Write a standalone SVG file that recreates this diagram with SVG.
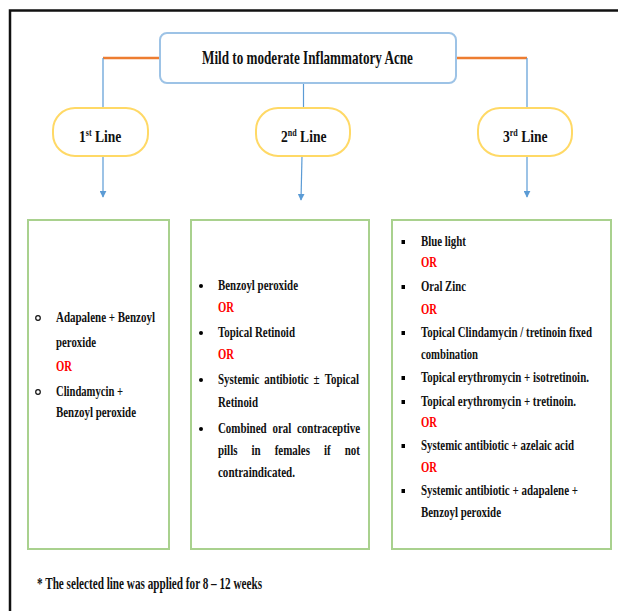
<svg xmlns="http://www.w3.org/2000/svg" width="618" height="611" viewBox="0 0 618 611">
<defs>
<style>
text{font-family:"Liberation Serif","Times New Roman",serif;font-weight:bold;fill:#111;}
.t{font-size:15px;}
.or{font-size:15px;fill:#ff0000;}
.ttl{font-size:18px;}
.lab{font-size:17px;}
.ft{font-size:17px;}
.green{fill:#fff;stroke:#a9d18e;stroke-width:2;}
.oval{fill:#fff;stroke:#ffd966;stroke-width:2;}
.conn{fill:none;stroke:#5b9bd5;stroke-width:1.2;}
.orange{fill:none;stroke:#ed7d31;stroke-width:2.5;}
</style>
<marker id="arr" viewBox="0 0 10 10" refX="9" refY="5" markerWidth="7" markerHeight="7" markerUnits="userSpaceOnUse" orient="auto">
<path d="M0,0 L10,5 L0,10 z" fill="#5b9bd5"/>
</marker>
</defs>
<rect width="618" height="611" fill="#fff"/>
<path d="M10,611 V10.5 H618" fill="none" stroke="#111" stroke-width="2.5"/>

<g id="connectors">
<path class="orange" d="M103,58 H160"/>
<path class="orange" d="M456,58 H527"/>
<path class="conn" d="M103,58 V108"/>
<path class="conn" d="M527,58 V108"/>
<path class="conn" d="M303.5,83 V108"/>
<path class="conn" d="M103,156 V197" marker-end="url(#arr)"/>
<path class="conn" d="M302,156 L301,200" marker-end="url(#arr)"/>
<path class="conn" d="M527,156 V197" marker-end="url(#arr)"/>
</g>

<g id="root">
<rect x="160" y="33" width="296" height="50" rx="7" fill="#fff" stroke="#9dc3e6" stroke-width="2"/>
<text class="ttl" transform="translate(202,64) scale(0.72,1)" textLength="293" lengthAdjust="spacingAndGlyphs">Mild to moderate Inflammatory Acne</text>
</g>

<g id="line1">
<rect class="oval" x="53" y="108" width="95" height="48" rx="22"/>
<text class="lab" transform="translate(79,142) scale(0.8,1)">1<tspan font-size="10" dy="-6">st</tspan><tspan dy="6"> Line</tspan></text>
</g>
<g id="line2">
<rect class="oval" x="256" y="108" width="94" height="48" rx="22"/>
<text class="lab" transform="translate(281,142) scale(0.8,1)">2<tspan font-size="10" dy="-6">nd</tspan><tspan dy="6"> Line</tspan></text>
</g>
<g id="line3">
<rect class="oval" x="478" y="108" width="94" height="48" rx="22"/>
<text class="lab" transform="translate(503,142) scale(0.8,1)">3<tspan font-size="10" dy="-6">rd</tspan><tspan dy="6"> Line</tspan></text>
</g>

<g id="box1">
<rect class="green" x="28" y="220" width="141" height="329"/>
<circle cx="38" cy="318" r="2.3" fill="none" stroke="#111" stroke-width="1.2"/>
<circle cx="38" cy="392" r="2.3" fill="none" stroke="#111" stroke-width="1.2"/>
<g transform="scale(0.73,1)">
<text class="t" x="76.7" y="322" textLength="135.6" lengthAdjust="spacingAndGlyphs">Adapalene + Benzoyl</text>
<text class="t" x="76.7" y="347" textLength="54.8" lengthAdjust="spacingAndGlyphs">peroxide</text>
<text class="or" x="76.7" y="371" textLength="21.9" lengthAdjust="spacingAndGlyphs">OR</text>
<text class="t" x="76.7" y="396" textLength="91.8" lengthAdjust="spacingAndGlyphs">Clindamycin +</text>
<text class="t" x="76.7" y="417" textLength="109.6" lengthAdjust="spacingAndGlyphs">Benzoyl peroxide</text>
</g>
</g>

<g id="box2">
<rect class="green" x="191" y="220" width="178" height="329"/>
<circle cx="201" cy="286" r="2"/>
<circle cx="201" cy="333" r="2"/>
<circle cx="201" cy="380" r="2"/>
<circle cx="201" cy="429" r="2"/>
<g transform="scale(0.73,1)">
<text class="t" x="298.6" y="290" textLength="109.6" lengthAdjust="spacingAndGlyphs">Benzoyl peroxide</text>
<text class="or" x="298.6" y="312" textLength="21.9" lengthAdjust="spacingAndGlyphs">OR</text>
<text class="t" x="298.6" y="337" textLength="105.5" lengthAdjust="spacingAndGlyphs">Topical Retinoid</text>
<text class="or" x="298.6" y="359" textLength="21.9" lengthAdjust="spacingAndGlyphs">OR</text>
<text class="t" x="298.6" y="384">Systemic</text>
<text class="t" x="362.1" y="384">antibiotic</text>
<text class="t" x="429.6" y="384">±</text>
<text class="t" x="444.8" y="384">Topical</text>
<text class="t" x="298.6" y="407" textLength="54.8" lengthAdjust="spacingAndGlyphs">Retinoid</text>
<text class="t" x="298.6" y="433">Combined</text>
<text class="t" x="373.2" y="433">oral</text>
<text class="t" x="406.8" y="433">contraceptive</text>
<text class="t" x="298.6" y="455">pills</text>
<text class="t" x="344.6" y="455">in</text>
<text class="t" x="376.3" y="455">females</text>
<text class="t" x="443.9" y="455">if</text>
<text class="t" x="472.3" y="455">not</text>
<text class="t" x="298.6" y="477" textLength="105.5" lengthAdjust="spacingAndGlyphs">contraindicated.</text>
</g>
</g>

<g id="box3">
<rect class="green" x="392" y="220" width="219" height="329"/>
<rect x="401.5" y="240" width="3.5" height="4"/>
<rect x="401.5" y="285" width="3.5" height="4"/>
<rect x="401.5" y="331" width="3.5" height="4"/>
<rect x="401.5" y="376" width="3.5" height="4"/>
<rect x="401.5" y="400" width="3.5" height="4"/>
<rect x="401.5" y="444" width="3.5" height="4"/>
<rect x="401.5" y="489" width="3.5" height="4"/>
<g transform="scale(0.73,1)">
<text class="t" x="576.7" y="246" textLength="61.6" lengthAdjust="spacingAndGlyphs">Blue light</text>
<text class="or" x="576.7" y="267" textLength="21.9" lengthAdjust="spacingAndGlyphs">OR</text>
<text class="t" x="576.7" y="291" textLength="61.6" lengthAdjust="spacingAndGlyphs">Oral Zinc</text>
<text class="or" x="576.7" y="314" textLength="21.9" lengthAdjust="spacingAndGlyphs">OR</text>
<text class="t" x="576.7" y="337" textLength="234.2" lengthAdjust="spacingAndGlyphs">Topical Clindamycin / tretinoin fixed</text>
<text class="t" x="576.7" y="359" textLength="78.1" lengthAdjust="spacingAndGlyphs">combination</text>
<text class="t" x="576.7" y="382" textLength="230.1" lengthAdjust="spacingAndGlyphs">Topical erythromycin + isotretinoin.</text>
<text class="t" x="576.7" y="406" textLength="212.3" lengthAdjust="spacingAndGlyphs">Topical erythromycin + tretinoin.</text>
<text class="or" x="576.7" y="427" textLength="21.9" lengthAdjust="spacingAndGlyphs">OR</text>
<text class="t" x="576.7" y="450" textLength="209.6" lengthAdjust="spacingAndGlyphs">Systemic antibiotic + azelaic acid</text>
<text class="or" x="576.7" y="472" textLength="21.9" lengthAdjust="spacingAndGlyphs">OR</text>
<text class="t" x="576.7" y="495" textLength="215.1" lengthAdjust="spacingAndGlyphs">Systemic antibiotic + adapalene +</text>
<text class="t" x="576.7" y="517" textLength="109.6" lengthAdjust="spacingAndGlyphs">Benzoyl peroxide</text>
</g>
</g>

<text class="ft" transform="translate(37,589) scale(0.72,1)" textLength="312.5" lengthAdjust="spacingAndGlyphs">* The selected line was applied for 8 – 12 weeks</text>
</svg>
